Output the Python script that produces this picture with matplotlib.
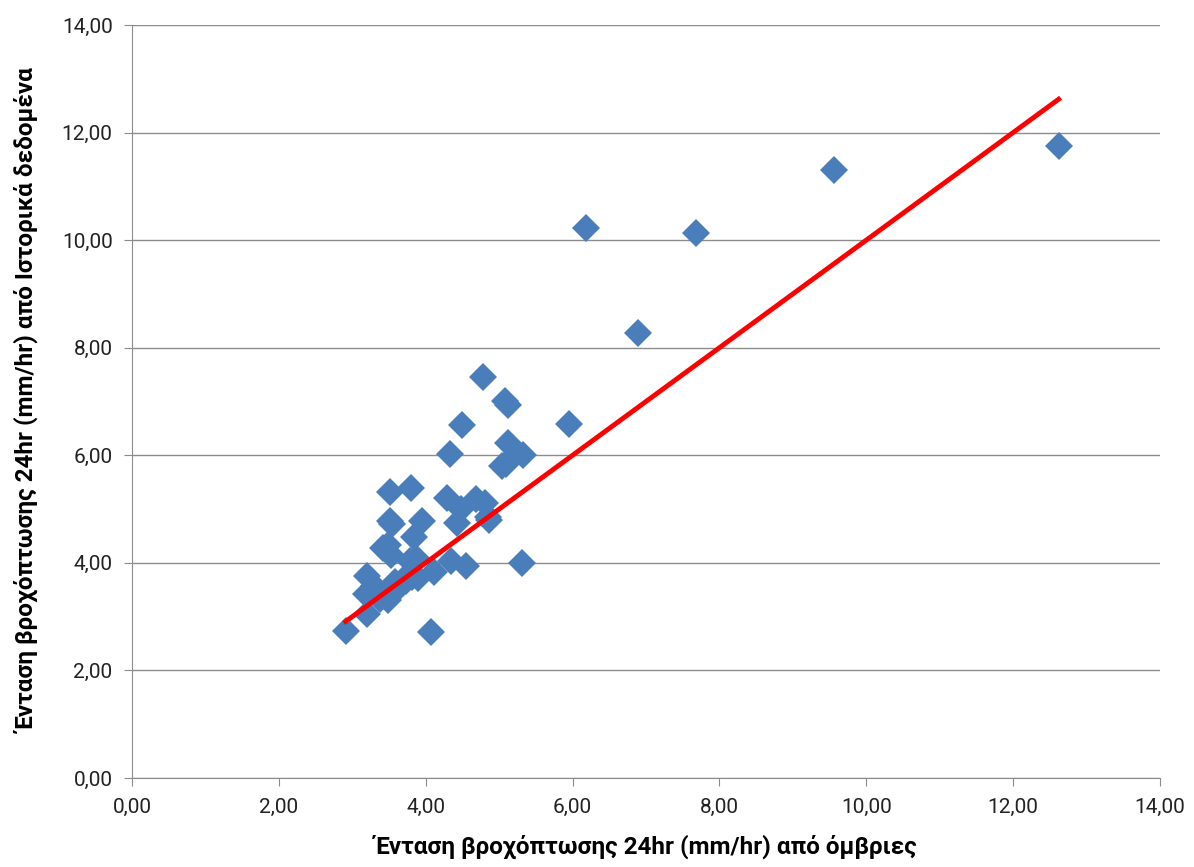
import numpy as np
import matplotlib.pyplot as plt
from matplotlib.ticker import FuncFormatter

# τιμές από όμβριες (x) και από ιστορικά δεδομένα (y)
x_ombries = [12.62, 9.56, 7.68, 6.18, 6.89, 5.95, 4.78, 5.08, 5.12, 4.49,
             5.12, 5.32, 4.33, 5.04, 5.09, 3.51, 3.80, 4.29, 4.68, 4.81,
             4.48, 4.42, 4.85, 4.86, 3.51, 3.95, 3.54, 3.84, 3.42, 3.49,
             3.52, 3.87, 3.79, 4.34, 4.55, 5.31, 4.11, 3.81, 3.89, 3.20,
             3.30, 3.19, 3.58, 3.70, 3.46, 3.49, 3.60, 3.38, 3.20, 2.91,
             4.07, 3.73]
y_istorika = [11.75, 11.30, 10.13, 10.22, 8.27, 6.58, 7.45, 7.01, 6.93, 6.56,
              6.23, 6.00, 6.02, 5.80, 5.83, 5.32, 5.39, 5.21, 5.19, 5.11,
              5.00, 4.74, 4.85, 4.80, 4.78, 4.78, 4.72, 4.48, 4.28, 4.33,
              4.15, 4.09, 4.03, 4.03, 3.94, 4.00, 3.83, 3.74, 3.72, 3.76,
              3.57, 3.42, 3.64, 3.69, 3.38, 3.31, 3.49, 3.33, 3.05, 2.73,
              2.71, 3.67]

# γραμμή τάσης (κλίση, τομή)
trend_coef = [1.0, 0.0]

plt.rcParams['font.family'] = ['Roboto', 'DejaVu Sans']

fig = plt.figure(figsize=(11.94, 8.67), dpi=100)
ax = fig.add_axes([0.1106, 0.1027, 0.8609, 0.8685])

ax.plot(x_ombries, y_istorika, 'D', color='#4a7ebb', markersize=14,
        markeredgewidth=0, zorder=3)

tx = np.array([min(x_ombries), max(x_ombries)])
ax.plot(tx, np.polyval(trend_coef, tx), color='#ff0000', linewidth=3.5, zorder=4)

ax.set_xlim(0, 14)
ax.set_ylim(0, 14)
ax.set_xticks(np.arange(0, 15, 2))
ax.set_yticks(np.arange(0, 15, 2))
fmt = FuncFormatter(lambda v, p: f'{v:.2f}'.replace('.', ','))
ax.xaxis.set_major_formatter(fmt)
ax.yaxis.set_major_formatter(fmt)

ax.grid(axis='y', color='#8c8c8c', linewidth=1)
ax.set_axisbelow(True)
for s in ['top', 'right']:
    ax.spines[s].set_visible(False)
for s in ['left', 'bottom']:
    ax.spines[s].set_color('#8c8c8c')
ax.tick_params(axis='both', direction='out', length=6, color='#8c8c8c',
               labelsize=15, labelcolor='#222222', pad=8)

ax.set_xlabel('Ένταση βροχόπτωσης 24hr (mm/hr) από όμβριες',
              fontsize=17.5, fontweight='bold', labelpad=13)
ax.set_ylabel('Ένταση βροχόπτωσης 24hr (mm/hr) από Ιστορικά δεδομένα',
              fontsize=17.5, fontweight='bold', labelpad=15)

fig.savefig('out.png', dpi=100)
